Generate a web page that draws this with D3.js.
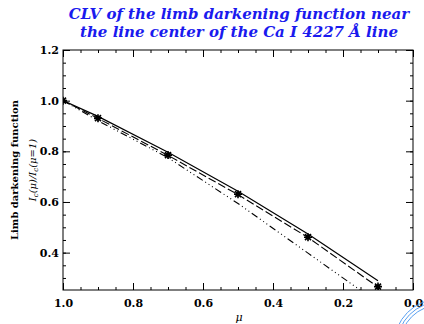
<!DOCTYPE html>
<html>
<head>
<meta charset="utf-8">
<script src="https://cdn.jsdelivr.net/npm/d3@7/dist/d3.min.js"></script>
<style>
  html, body { margin: 0; padding: 0; background: #fff; }
  svg { display: block; }
</style>
</head>
<body>
<svg id="chart" width="424" height="324"></svg>
<script>
// Disk positions (mu = cos theta)
const mu = [1.0, 0.9, 0.7, 0.5, 0.3, 0.1];
// Observed limb darkening, normalised to disk center (asterisks)
const observed = [1.0, 0.931, 0.785, 0.631, 0.461, 0.266];
// Model curves
const modelSolid = [1.0, 0.938, 0.796, 0.642, 0.474, 0.289];
const modelDashed = [1.0, 0.930, 0.784, 0.629, 0.460, 0.264];
const modelDashDot = [1.0, 0.921, 0.775, 0.594, 0.398, 0.202];

const xMajor = [1.0, 0.8, 0.6, 0.4, 0.2, 0.0];
const yMajor = [0.4, 0.6, 0.8, 1.0, 1.2];

const svg = d3.select("#chart");
const m = { left: 63, right: 413, top: 50, bottom: 290 };

const x = d3.scaleLinear().domain([1.0, 0.0]).range([m.left, m.right]);
const y = d3.scaleLinear().domain([0.2525, 1.2]).range([m.bottom, m.top]);

svg.append("defs").append("clipPath").attr("id", "plotclip")
  .append("rect").attr("x", m.left).attr("y", m.top)
  .attr("width", m.right - m.left).attr("height", m.bottom - m.top);

const serif = "'DejaVu Serif', 'Liberation Serif', serif";

// Title
const title = svg.append("text")
  .attr("text-anchor", "middle")
  .attr("fill", "#1a1aee")
  .style("font-family", serif)
  .style("font-weight", "bold")
  .style("font-style", "italic")
  .style("font-size", "15px");
title.append("tspan").attr("x", 239).attr("y", 19)
  .text("CLV of the limb darkening function near");
title.append("tspan").attr("x", 239).attr("y", 37)
  .text("the line center of the Ca I 4227 Å line");

// Axes: ticks point into the plot on all four sides
const xMinor = d3.range(0, 21).map(i => i * 0.05);
const yMinor = d3.range(6, 25).map(i => +(i * 0.05).toFixed(2)).filter(v => v >= 0.25);

function styleAxis(g) {
  g.select(".domain").remove();
  g.selectAll(".tick line").attr("stroke", "#000").attr("stroke-width", 1);
}

const gB = svg.append("g").attr("transform", `translate(0,${m.bottom})`)
  .call(d3.axisBottom(x).tickValues(xMajor).tickSize(-7)
    .tickFormat(d3.format(".1f")).tickPadding(9));
styleAxis(gB);
gB.selectAll("text").style("font-family", serif).style("font-weight", "bold")
  .style("font-size", "11px").attr("fill", "#000");

svg.append("g").attr("transform", `translate(0,${m.bottom})`)
  .call(d3.axisBottom(x).tickValues(xMinor).tickSize(-3).tickFormat(""))
  .call(styleAxis);
svg.append("g").attr("transform", `translate(0,${m.top})`)
  .call(d3.axisTop(x).tickValues(xMajor).tickSize(-7).tickFormat(""))
  .call(styleAxis);
svg.append("g").attr("transform", `translate(0,${m.top})`)
  .call(d3.axisTop(x).tickValues(xMinor).tickSize(-3).tickFormat(""))
  .call(styleAxis);

const gL = svg.append("g").attr("transform", `translate(${m.left},0)`)
  .call(d3.axisLeft(y).tickValues(yMajor).tickSize(-7)
    .tickFormat(d3.format(".1f")).tickPadding(4));
styleAxis(gL);
gL.selectAll("text").style("font-family", serif).style("font-weight", "bold")
  .style("font-size", "11px").attr("fill", "#000");
svg.append("g").attr("transform", `translate(${m.left},0)`)
  .call(d3.axisLeft(y).tickValues(yMinor).tickSize(-3).tickFormat(""))
  .call(styleAxis);
svg.append("g").attr("transform", `translate(${m.right},0)`)
  .call(d3.axisRight(y).tickValues(yMajor).tickSize(-7).tickFormat(""))
  .call(styleAxis);
svg.append("g").attr("transform", `translate(${m.right},0)`)
  .call(d3.axisRight(y).tickValues(yMinor).tickSize(-3).tickFormat(""))
  .call(styleAxis);

// Frame
svg.append("rect").attr("x", m.left).attr("y", m.top)
  .attr("width", m.right - m.left).attr("height", m.bottom - m.top)
  .attr("fill", "none").attr("stroke", "#000").attr("stroke-width", 1);

// Axis titles
svg.append("text").attr("x", 239).attr("y", 321).attr("text-anchor", "middle")
  .style("font-family", serif).style("font-style", "italic").style("font-size", "11px")
  .text("μ");

const yt = svg.append("g").attr("transform", `translate(0,${(m.top + m.bottom) / 2}) rotate(-90)`);
yt.append("text").attr("x", 0).attr("y", 18).attr("text-anchor", "middle")
  .style("font-family", serif).style("font-weight", "bold").style("font-size", "10px")
  .text("Limb darkening function");
const yt2 = yt.append("text").attr("x", 0).attr("y", 36).attr("text-anchor", "middle")
  .style("font-family", serif).style("font-style", "italic").style("font-size", "10px");
yt2.append("tspan").text("I");
yt2.append("tspan").attr("baseline-shift", "-25%").style("font-size", "7px").text("c");
yt2.append("tspan").text("(μ)/I");
yt2.append("tspan").attr("baseline-shift", "-25%").style("font-size", "7px").text("c");
yt2.append("tspan").text("(μ=1)");

// Curves
const plot = svg.append("g").attr("clip-path", "url(#plotclip)");
const line = d3.line().x((d, i) => x(mu[i])).y(d => y(d));

plot.append("path").datum(modelSolid).attr("d", line)
  .attr("fill", "none").attr("stroke", "#000").attr("stroke-width", 1.2);
plot.append("path").datum(modelDashed).attr("d", line)
  .attr("fill", "none").attr("stroke", "#000").attr("stroke-width", 1.1)
  .attr("stroke-dasharray", "8,3");
plot.append("path").datum(modelDashDot).attr("d", line)
  .attr("fill", "none").attr("stroke", "#000").attr("stroke-width", 1.1)
  .attr("stroke-dasharray", "7,3,1,3,1,3,1,3");

// Asterisk markers
const r = 4, rd = r * 0.75;
const star = `M${-r},0L${r},0M0,${-r}L0,${r}M${-rd},${-rd}L${rd},${rd}M${-rd},${rd}L${rd},${-rd}`;
plot.selectAll("path.obs").data(observed).join("path")
  .attr("class", "obs")
  .attr("transform", (d, i) => `translate(${x(mu[i])},${y(d)})`)
  .attr("d", star)
  .attr("fill", "none").attr("stroke", "#000").attr("stroke-width", 1.6);

// Corner ornament
const arc = svg.append("g").attr("fill", "none").attr("stroke", "#5aa0f0").attr("stroke-width", 1);
[40, 43, 46].forEach(rad => {
  arc.append("circle").attr("cx", 440).attr("cy", 345).attr("r", rad);
});
</script>
</body>
</html>
